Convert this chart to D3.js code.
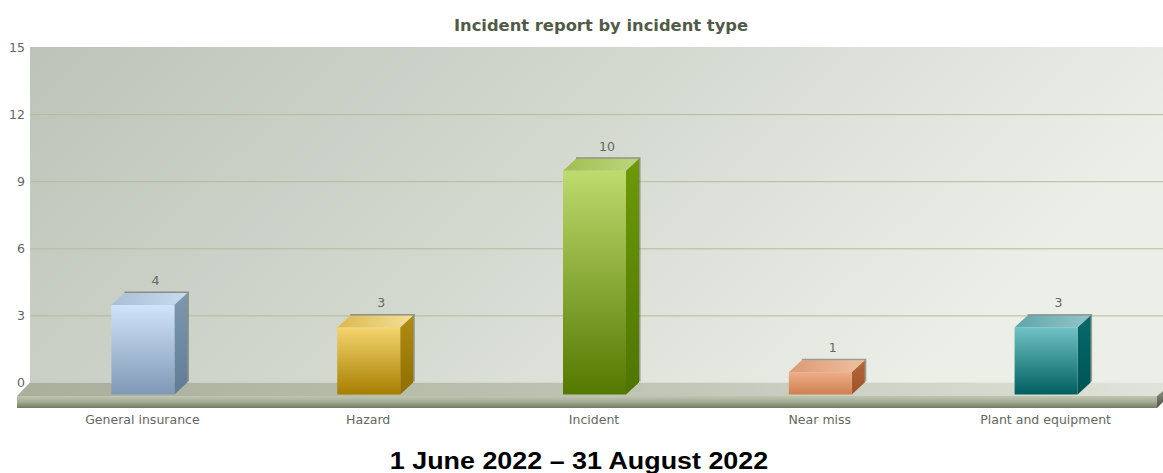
<!DOCTYPE html>
<html>
<head>
<meta charset="utf-8">
<script src="https://cdn.jsdelivr.net/npm/d3@7"></script>
<style>
  html, body { margin: 0; padding: 0; background: #fff; }
  svg { display: block; }
  text { font-family: "DejaVu Sans", sans-serif; }
</style>
</head>
<body>
<svg id="chart" width="1163" height="473"></svg>
<script>
const categories = ["General insurance", "Hazard", "Incident", "Near miss", "Plant and equipment"];
const counts = [4, 3, 10, 1, 3];
const yTicks = [0, 3, 6, 9, 12, 15];
const chartTitle = "Incident report by incident type";
const dateRange = "1 June 2022 \u2013 31 August 2022";

// front-top, front-bottom, lid-light, lid-dark, side-top, side-bottom
const barPalettes = [
  ["#d0e4fa", "#7f98b5", "#c8daee", "#a9bfd6", "#7d97b0", "#5f7c96"],
  ["#f4d56e", "#a67f00", "#f2e09a", "#dcb94e", "#b08c10", "#8f6e00"],
  ["#bedb6e", "#557800", "#bcd67c", "#a0c050", "#6c9a08", "#4f7500"],
  ["#efae8a", "#d0804e", "#eec0a0", "#dc9a72", "#b5683a", "#9c5426"],
  ["#70c2c5", "#005f60", "#93c5c9", "#5fa6aa", "#056a6c", "#005355"]
];

const width = 1163, height = 473;
const depthX = 13, depthY = 12;
const plot = { left: 30, right: 1163, top: 47, bottom: 382.5 };
const textColor = "#62685f";
const labelStretch = 1.09;

const svg = d3.select("#chart");
const defs = svg.append("defs");

function linear(id, stops, x2 = 0, y2 = 1) {
  const g = defs.append("linearGradient").attr("id", id)
    .attr("x1", 0).attr("y1", 0).attr("x2", x2).attr("y2", y2);
  stops.forEach(([o, c]) => g.append("stop").attr("offset", o).attr("stop-color", c));
}

linear("wall", [[0, "#bcc4b9"], [0.5, "#d3d8cf"], [1, "#ebefe8"]], 1, 0.3);
linear("floorTop", [[0, "#a9af9b"], [0.5, "#bcc3b2"], [1, "#dfe3d9"]], 1, 0);
linear("floorFront", [[0, "#c0c6b2"], [0.45, "#a6ae96"], [1, "#727a60"]]);
linear("floorEnd", [[0, "#8b917d"], [1, "#4d5345"]]);

barPalettes.forEach((p, i) => {
  linear(`front${i}`, [[0, p[0]], [1, p[1]]]);
  linear(`lid${i}`, [[0, p[3]], [1, p[2]]], 1, 0);
  linear(`side${i}`, [[0, p[4]], [1, p[5]]]);
});

const x = d3.scaleBand().domain(categories).range([30, 1159]);
const y = d3.scaleLinear().domain([0, 15]).range([plot.bottom, plot.top]);
const barWidth = 63;

// Back wall
svg.append("rect")
  .attr("x", plot.left).attr("y", plot.top)
  .attr("width", plot.right - plot.left).attr("height", plot.bottom - plot.top)
  .attr("fill", "url(#wall)");

// Value axis with gridlines across the wall
const yAxis = svg.append("g")
  .attr("transform", `translate(${plot.left},0)`)
  .call(d3.axisLeft(y).tickValues(yTicks).tickSize(0).tickPadding(0));
yAxis.select(".domain").remove();
yAxis.selectAll("text")
  .attr("x", null).attr("dy", null)
  .attr("transform", `translate(-5,4) scale(${labelStretch},1)`)
  .attr("font-size", 11.5).attr("fill", textColor)
  .style("font-family", '"DejaVu Sans", sans-serif');
yAxis.selectAll(".tick").filter(d => d > 0 && d < 15).append("line")
  .attr("x1", 0).attr("x2", plot.right - plot.left)
  .attr("stroke", "#b2bd98").attr("stroke-width", 1);

// Floor slab: top face, front edge and the right-hand end
const floorFrontLeft = plot.left - depthX;
const floorFrontRight = plot.right - 6;
const floorFrontTop = y(0) + depthY + 1.5;
const slabHeight = 12;
const path = pts => d3.line()(pts) + "Z";

svg.append("path")
  .attr("d", path([[plot.left, y(0)], [plot.right, y(0)], [floorFrontRight + 6, floorFrontTop - 5],
                   [floorFrontRight, floorFrontTop], [floorFrontLeft, floorFrontTop]]))
  .attr("fill", "url(#floorTop)");
svg.append("rect")
  .attr("x", floorFrontLeft).attr("y", floorFrontTop)
  .attr("width", floorFrontRight - floorFrontLeft).attr("height", slabHeight)
  .attr("fill", "url(#floorFront)");
svg.append("path")
  .attr("d", path([[floorFrontRight, floorFrontTop], [plot.right, floorFrontTop - 5],
                   [plot.right, floorFrontTop + slabHeight - 6], [floorFrontRight, floorFrontTop + slabHeight]]))
  .attr("fill", "url(#floorEnd)");

// Three-faced bars
const rows = categories.map((name, i) => ({ name, value: counts[i], i }));
const bars = svg.append("g").selectAll("g").data(rows).join("g");

const frontLeft = d => x(d.name) + x.bandwidth() / 2 - barWidth / 2;

// soft edge behind the back of each bar
bars.append("path")
  .attr("d", d => {
    const l = frontLeft(d) + depthX, r = l + barWidth, t = y(d.value);
    return d3.line()([[l, t - 0.5], [r + 0.5, t - 0.5], [r + 0.5, y(0) - 1]]);
  })
  .attr("fill", "none").attr("stroke", "#55594f").attr("stroke-opacity", 0.55).attr("stroke-width", 2);

bars.append("path")
  .attr("d", d => {
    const l = frontLeft(d), t = y(d.value) + depthY;
    return path([[l, t], [l + depthX, t - depthY], [l + barWidth + depthX, t - depthY], [l + barWidth, t]]);
  })
  .attr("fill", d => `url(#lid${d.i})`);

bars.append("path")
  .attr("d", d => {
    const r = frontLeft(d) + barWidth, t = y(d.value) + depthY, b = y(0) + depthY;
    return path([[r, t], [r + depthX, t - depthY], [r + depthX, b - depthY], [r, b]]);
  })
  .attr("fill", d => `url(#side${d.i})`);

bars.append("rect")
  .attr("x", frontLeft)
  .attr("y", d => y(d.value) + depthY)
  .attr("width", barWidth)
  .attr("height", d => y(0) - y(d.value))
  .attr("fill", d => `url(#front${d.i})`);

bars.append("text")
  .attr("transform", d => `translate(${frontLeft(d) + barWidth / 2 + depthX - 0.5},${y(d.value) - 8}) scale(${labelStretch},1)`)
  .attr("text-anchor", "middle")
  .attr("font-size", 11.5).attr("fill", textColor)
  .text(d => d.value);

// Category labels below the slab
svg.append("g").selectAll("text").data(categories).join("text")
  .attr("transform", d => `translate(${x(d) + x.bandwidth() / 2 - 0.5},423.5) scale(${labelStretch},1)`)
  .attr("text-anchor", "middle")
  .attr("font-size", 11.5).attr("fill", textColor)
  .text(d => d);

// Titles
svg.append("text")
  .attr("transform", `translate(601,30.5) scale(${labelStretch},1)`)
  .attr("text-anchor", "middle")
  .attr("font-size", 15).attr("font-weight", "bold").attr("fill", "#515c47")
  .text(chartTitle);

svg.append("text")
  .attr("transform", "translate(579,469) scale(1.12,1)")
  .attr("text-anchor", "middle")
  .style("font-family", '"Liberation Sans", Arial, sans-serif')
  .attr("font-size", 24).attr("font-weight", "bold").attr("fill", "#000")
  .text(dateRange);
</script>
</body>
</html>
